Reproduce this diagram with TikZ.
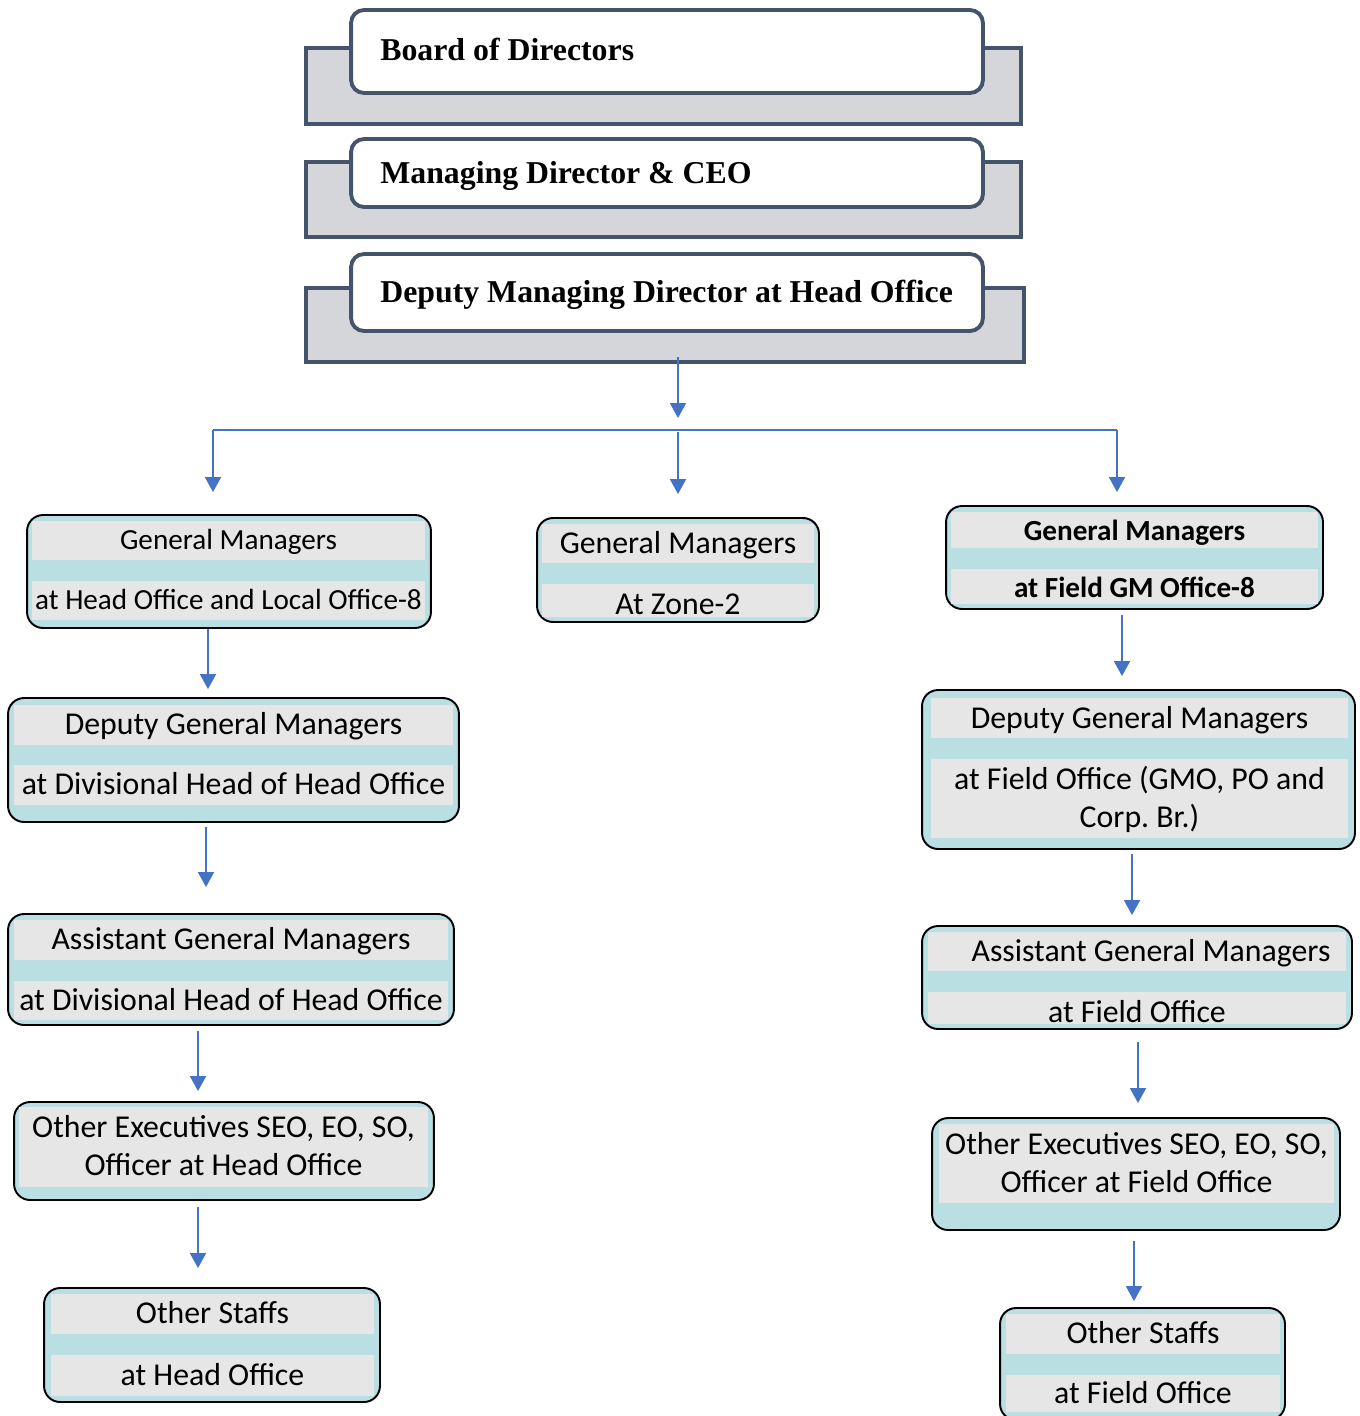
\documentclass[tikz,border=0pt]{standalone}
\usepackage{fontspec}
\setmainfont{Carlito}
\newfontfamily\headfont{Liberation Serif}
\usepackage{xcolor}
\definecolor{slateline}{HTML}{44546A}
\definecolor{platefill}{HTML}{D5D6DA}
\definecolor{boxteal}{HTML}{BADFE2}
\definecolor{bandgray}{HTML}{E6E6E6}
\definecolor{linkblue}{HTML}{4472C4}
\usetikzlibrary{arrows.meta,positioning,calc}

\begin{document}
\begin{tikzpicture}[x=0.02cm, y=-0.02cm,
    plate/.style={rectangle, draw=slateline, fill=platefill, line width=2.2pt},
    titlebox/.style={rectangle, rounded corners=0.26cm, draw=slateline, fill=white, line width=2.2pt, minimum width=12.64cm},
    titletext/.style={anchor=base west, inner sep=0, font=\headfont\bfseries\fontsize{18.1pt}{22pt}\selectfont},
    orgbox/.style={rectangle, rounded corners=0.32cm, draw=black, fill=boxteal, line width=1.1pt},
    band/.style={rectangle, fill=bandgray, inner sep=0, align=center, text height=12pt, text depth=0.9pt, font=\fontsize{18.1pt}{21.8pt}\selectfont},
    twoline/.style={text height=33.8pt},
    smallband/.style={band, text height=11pt, text depth=0.8pt, font=\fontsize{16.6pt}{20pt}\selectfont},
    arr/.style={-{Triangle[length=0.3cm, width=0.32cm]}, linkblue, line width=1.1pt},
    link/.style={linkblue, line width=1.3pt}
  ]
  \useasboundingbox (0,0) rectangle (1359,1416);
  \clip (0,0) rectangle (1359,1416);

  % top of the hierarchy
  \node[plate, minimum width=14.3cm, minimum height=1.52cm] (bodplate) at (663.5,86) {};
  \node[titlebox, minimum height=1.66cm] (bod) at (667,51.5) {};
  \node[titletext] (bodtext) at (380,61) {Board of Directors};

  \node[plate, minimum width=14.3cm, minimum height=1.5cm] (mdcplate) at (663.5,199.5) {};
  \node[titlebox, minimum height=1.36cm] (mdc) at (667,173) {};
  \node[titletext] (mdctext) at (380,183) {Managing Director \& CEO};

  \node[plate, minimum width=14.36cm, minimum height=1.48cm] (dmdplate) at (665,325) {};
  \node[titlebox, minimum height=1.54cm] (dmd) at (667,292.5) {};
  \node[titletext] (dmdtext) at (380,302) {Deputy Managing Director at Head Office};

  % general managers
  \node[orgbox, minimum width=8.08cm, minimum height=2.26cm] (gml) at (229,571.5) {};
  \node[smallband, minimum width=7.86cm, minimum height=0.78cm] (gmla) at (228.5,540.5) {General Managers};
  \node[smallband, minimum width=7.86cm, minimum height=0.78cm] (gmlb) at (228.5,600.5) {at Head Office and Local Office-8};

  \node[orgbox, minimum width=5.64cm, minimum height=2.08cm] (gmm) at (678,570) {};
  \node[band, minimum width=5.44cm, minimum height=0.78cm] (gmma) at (678,543.5) {General Managers};
  \node[band, text height=16.6pt, minimum width=5.44cm, minimum height=0.66cm] (gmmb) at (678,600.5) {At Zone-2};

  \node[orgbox, minimum width=7.54cm, minimum height=2.06cm] (gmr) at (1134.5,557.5) {};
  \node[smallband, text height=13pt, font=\fontsize{16.6pt}{20pt}\selectfont\bfseries, minimum width=7.34cm, minimum height=0.72cm] (gmra) at (1134.5,530) {General Managers};
  \node[smallband, text height=13pt, font=\fontsize{16.6pt}{20pt}\selectfont\bfseries, minimum width=7.34cm, minimum height=0.7cm] (gmrb) at (1134.5,586.5) {at Field GM Office-8};

  % head office chain
  \node[orgbox, minimum width=9.02cm, minimum height=2.48cm] (dgml) at (233.5,760) {};
  \node[band, minimum width=8.78cm, minimum height=0.8cm] (dgmla) at (233.5,725) {Deputy General Managers};
  \node[band, minimum width=8.78cm, minimum height=0.8cm] (dgmlb) at (233.5,785) {at Divisional Head of Head Office};

  \node[orgbox, minimum width=8.92cm, minimum height=2.22cm] (agml) at (231,969.5) {};
  \node[band, minimum width=8.68cm, minimum height=0.8cm] (agmla) at (231,940) {Assistant General Managers};
  \node[band, minimum width=8.68cm, minimum height=0.78cm] (agmlb) at (231,1000.5) {at Divisional Head of Head Office};

  \node[orgbox, minimum width=8.4cm, minimum height=1.96cm] (oel) at (224,1151) {};
  \node[band, twoline, minimum width=8.18cm, minimum height=1.6cm] (oelb) at (223.5,1147) {Other Executives SEO, EO, SO,\\Officer at Head Office};

  \node[orgbox, minimum width=6.72cm, minimum height=2.28cm] (osl) at (212,1345) {};
  \node[band, minimum width=6.46cm, minimum height=0.8cm] (osla) at (212.5,1314) {Other Staffs};
  \node[band, minimum width=6.46cm, minimum height=0.82cm] (oslb) at (212.5,1375.5) {at Head Office};

  % field office chain
  \node[orgbox, minimum width=8.66cm, minimum height=3.18cm] (dgmr) at (1138.5,769.5) {};
  \node[band, text height=13pt, minimum width=8.34cm, minimum height=0.8cm] (dgmra) at (1139.5,718) {Deputy General Managers};
  \node[band, twoline, minimum width=8.34cm, minimum height=1.58cm] (dgmrb) at (1139.5,798.5) {at Field Office (GMO, PO and\\Corp.\ Br.)};

  \node[orgbox, minimum width=8.6cm, minimum height=2.06cm] (agmr) at (1137,977.5) {};
  \node[band, minimum width=8.36cm, minimum height=0.78cm] (agmra) at (1137,951.5) {\hspace*{0.56cm}Assistant General Managers};
  \node[band, text height=17pt, minimum width=8.36cm, minimum height=0.64cm] (agmrb) at (1137,1008) {at Field Office};

  \node[orgbox, minimum width=8.16cm, minimum height=2.24cm] (oer) at (1136,1174) {};
  \node[band, twoline, minimum width=7.9cm, minimum height=1.58cm] (oerb) at (1136.5,1163.5) {Other Executives SEO, EO, SO,\\Officer at Field Office};

  \node[orgbox, minimum width=5.7cm, minimum height=2.24cm] (osr) at (1142.5,1364) {};
  \node[band, minimum width=5.48cm, minimum height=0.8cm] (osra) at (1143,1334) {Other Staffs};
  \node[band, minimum width=5.48cm, minimum height=0.74cm] (osrb) at (1143,1393.5) {at Field Office};

  % connectors
  \coordinate (bus) at (678,430);
  \coordinate (busl) at (213,430);
  \coordinate (busr) at (1117,430);
  \draw[arr, shorten >=0.24cm] ($(dmdplate.south -| bus)+(0,-7)$) -- (bus);
  \draw[link] (busl) -- (busr);
  \draw[arr, shorten >=0.44cm] (busl) -- (busl |- gml.north);
  \draw[arr, shorten <=0.04cm, shorten >=0.46cm] (bus) -- (bus |- gmm.north);
  \draw[arr, shorten >=0.26cm] (busr) -- (busr |- gmr.north);

  \draw[arr, shorten >=0.16cm] ($(gml.south)+(-21,0)$) -- ($(dgml.north)+(-25.5,0)$);
  \draw[arr, shorten <=0.08cm, shorten >=0.52cm] ($(dgml.south)+(-27.5,0)$) -- ($(agml.north)+(-25,0)$);
  \draw[arr, shorten <=0.1cm, shorten >=0.2cm] ($(agml.south)+(-33,0)$) -- ($(oel.north)+(-26,0)$);
  \draw[arr, shorten <=0.12cm, shorten >=0.38cm] ($(oel.south)+(-26,0)$) -- ($(osl.north)+(-14,0)$);

  \draw[arr, shorten <=0.1cm, shorten >=0.26cm] ($(gmr.south)+(-12.5,0)$) -- ($(dgmr.north)+(-16.5,0)$);
  \draw[arr, shorten <=0.08cm, shorten >=0.2cm] ($(dgmr.south)+(-6.5,0)$) -- ($(agmr.north)+(-5,0)$);
  \draw[arr, shorten <=0.24cm, shorten >=0.28cm] ($(agmr.south)+(1,0)$) -- ($(oer.north)+(2,0)$);
  \draw[arr, shorten <=0.2cm, shorten >=0.12cm] ($(oer.south)+(-2,0)$) -- ($(osr.north)+(-8.5,0)$);
\end{tikzpicture}
\end{document}
